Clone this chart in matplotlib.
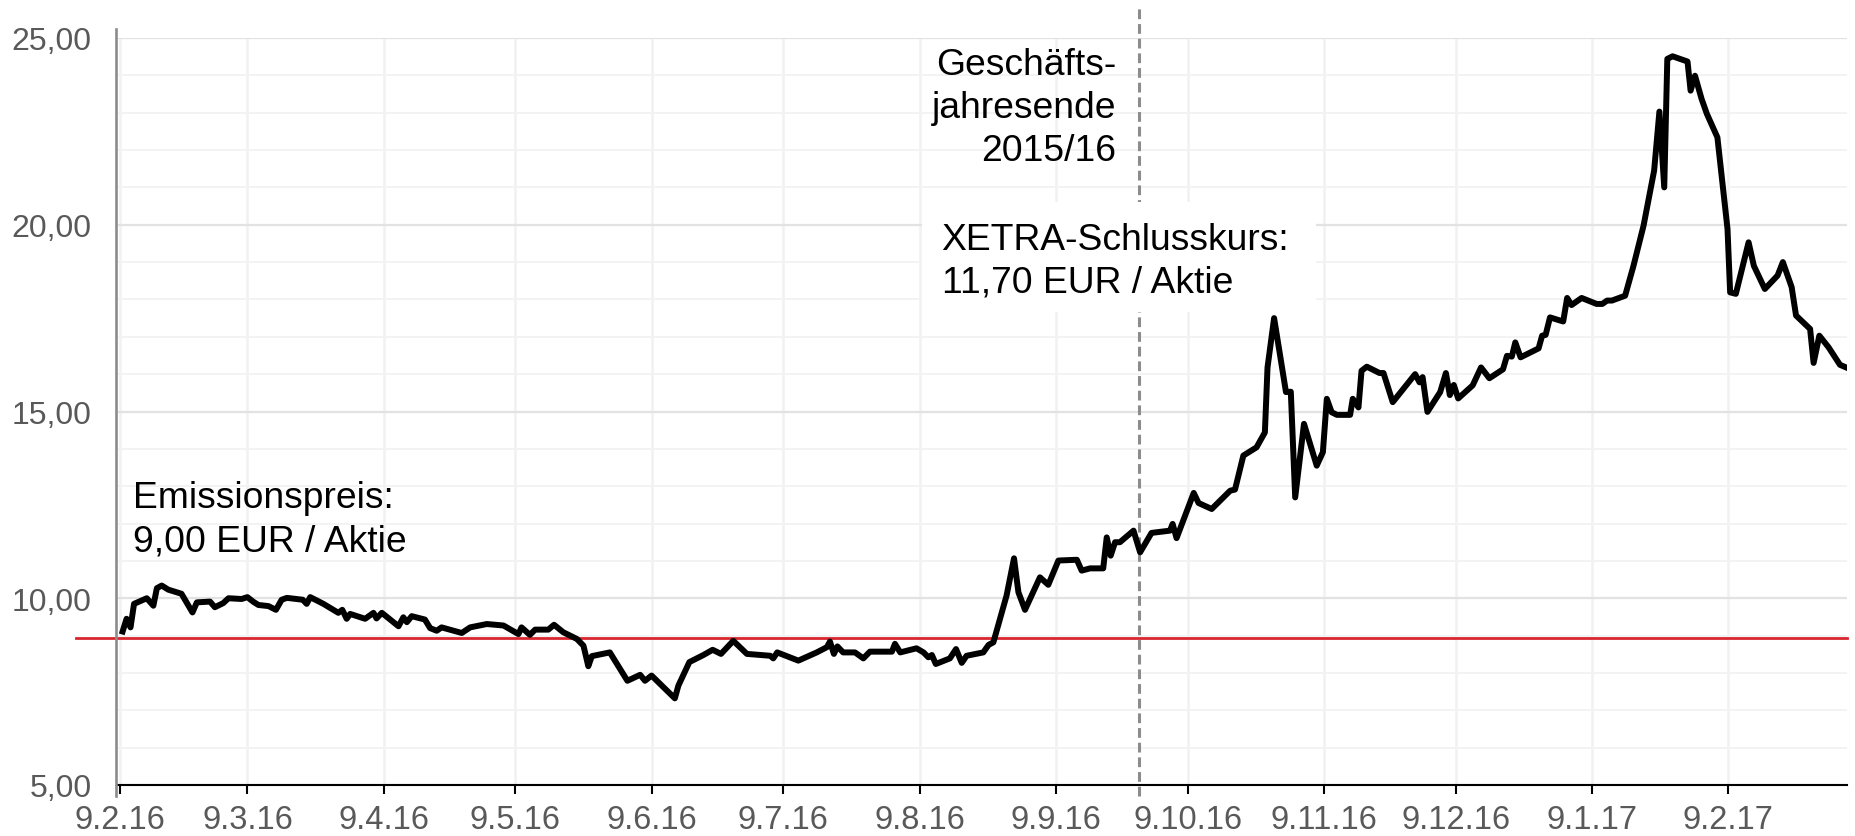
import matplotlib
matplotlib.use("Agg")
import matplotlib.pyplot as plt
import matplotlib.dates as mdates
from matplotlib.patches import Rectangle
import pandas as pd

plt.rcParams['font.family'] = ['Liberation Sans', 'DejaVu Sans']

# share price: days since IPO (9.2.2016) and EUR
start = pd.Timestamp("2016-02-09")
days = [0.6, 1.5, 2.4, 3.2, 6.1, 7.6, 8.4, 9.5, 11.0, 14.0, 16.5, 17.5, 20.5, 21.6,
        23.5, 24.7, 27.7, 29.0, 30.3, 31.5, 33.8, 35.5, 36.8, 38.0, 41.6, 42.5, 43.3,
        46.3, 49.7, 50.6, 51.6, 52.4, 55.8, 57.7, 58.4, 59.6, 63.4, 64.5, 65.3, 66.4,
        69.4, 70.6, 72.1, 73.2, 77.8, 79.7, 83.5, 87.3, 90.7, 91.4, 93.3, 94.5, 97.5,
        98.8, 100.9, 104.0, 105.5, 106.6, 107.4, 111.5, 113.8, 115.5, 118.4, 119.5,
        121.0, 126.3, 127.1, 129.6, 132.8, 134.9, 136.8, 139.6, 142.7, 148.0, 148.7,
        149.6, 154.4, 158.6, 160.9, 161.6, 162.5, 163.3, 164.6, 167.3, 169.2, 170.7,
        175.7, 176.4, 177.6, 181.3, 182.9, 184.0, 184.8, 185.7, 188.9, 190.3, 191.6,
        192.7, 196.5, 197.7, 198.8, 201.8, 203.5, 204.5, 206.0, 209.4, 211.3, 213.6,
        217.8, 218.9, 220.8, 223.8, 224.6, 225.5, 226.5, 227.6, 230.7, 232.2, 234.8,
        239.0, 239.6, 240.5, 244.4, 245.5, 248.5, 252.7, 253.8, 255.7, 258.7, 260.6,
        261.2, 262.7, 265.4, 266.5, 267.5, 269.5, 272.4, 273.8, 274.7, 275.8, 277.0,
        280.0, 280.6, 281.9, 282.6, 283.8, 286.7, 287.6, 289.7, 291.8, 294.8, 295.8,
        296.5, 297.6, 300.5, 301.8, 302.7, 303.6, 304.6, 307.9, 309.8, 311.7, 314.8,
        315.7, 316.8, 317.6, 318.8, 322.9, 323.7, 324.5, 325.5, 328.5, 329.4, 330.4,
        332.7, 336.1, 337.4, 338.5, 339.6, 342.6, 344.5, 346.8, 349.2, 350.4, 351.5,
        352.2, 353.4, 356.8, 357.5, 358.5, 360.0, 361.2, 363.6, 365.9, 366.5, 367.8,
        370.7, 371.9, 374.4, 377.3, 378.5, 380.5, 381.5, 384.7, 385.5, 386.8, 388.9,
        391.5, 392.9]
price = [9.11, 9.45, 9.22, 9.85, 10.00, 9.80, 10.27, 10.34, 10.23, 10.12, 9.62, 9.89,
         9.91, 9.76, 9.87, 10.00, 9.98, 10.03, 9.91, 9.82, 9.79, 9.69, 9.96, 10.01,
         9.96, 9.85, 10.03, 9.85, 9.61, 9.69, 9.45, 9.58, 9.45, 9.61, 9.46, 9.61, 9.25,
         9.49, 9.36, 9.52, 9.43, 9.20, 9.13, 9.22, 9.07, 9.22, 9.31, 9.27, 9.04, 9.22,
         9.02, 9.16, 9.16, 9.29, 9.09, 8.91, 8.73, 8.18, 8.45, 8.55, 8.11, 7.79, 7.95,
         7.79, 7.93, 7.32, 7.66, 8.29, 8.48, 8.62, 8.51, 8.86, 8.51, 8.46, 8.39, 8.55,
         8.33, 8.55, 8.69, 8.84, 8.51, 8.71, 8.55, 8.55, 8.39, 8.57, 8.57, 8.78, 8.55,
         8.66, 8.55, 8.42, 8.48, 8.24, 8.39, 8.64, 8.27, 8.46, 8.55, 8.75, 8.82, 10.07,
         11.07, 10.16, 9.69, 10.56, 10.36, 11.01, 11.03, 10.74, 10.80, 10.80, 11.63,
         11.14, 11.50, 11.50, 11.81, 11.23, 11.75, 11.81, 11.99, 11.61, 12.82, 12.55,
         12.39, 12.88, 12.91, 13.82, 14.04, 14.44, 16.18, 17.50, 15.52, 15.53, 12.70,
         14.67, 13.55, 13.91, 15.34, 14.98, 14.91, 14.91, 15.34, 15.11, 16.09, 16.20,
         16.03, 16.03, 15.25, 15.56, 16.00, 15.78, 15.92, 14.99, 15.52, 16.03, 15.44,
         15.71, 15.35, 15.70, 16.18, 15.89, 16.13, 16.49, 16.47, 16.85, 16.45, 16.69,
         17.03, 17.05, 17.52, 17.41, 18.04, 17.85, 18.04, 17.88, 17.88, 17.97, 17.97,
         18.10, 18.90, 19.98, 21.45, 23.03, 21.00, 24.44, 24.51, 24.37, 23.59, 23.99,
         23.37, 22.97, 22.34, 19.89, 18.19, 18.15, 19.53, 18.90, 18.28, 18.64, 19.00,
         18.33, 17.57, 17.21, 16.30, 17.03, 16.72, 16.25, 16.18]

tick_dates = ["2016-02-09", "2016-03-09", "2016-04-09", "2016-05-09", "2016-06-09",
              "2016-07-09", "2016-08-09", "2016-09-09", "2016-10-09", "2016-11-09",
              "2016-12-09", "2017-01-09", "2017-02-09"]
tick_labels = ["9.2.16", "9.3.16", "9.4.16", "9.5.16", "9.6.16", "9.7.16", "9.8.16",
               "9.9.16", "9.10.16", "9.11.16", "9.12.16", "9.1.17", "9.2.17"]
emission_line = 8.94
fy_end = "2016-09-28"

t0 = mdates.date2num(start)
x = [t0 + d for d in days]

fig = plt.figure(figsize=(18.56, 8.37), dpi=100)
ax = fig.add_axes([118 / 1856, 51 / 837, 1729 / 1856, 747 / 837])

ax.set_xlim(t0 - 0.45, t0 + 393.1)
ax.set_ylim(5, 25)

# grid
ax.set_yticks([5, 10, 15, 20, 25])
ax.set_yticks(range(5, 26), minor=True)
ax.grid(axis='y', which='major', color='#e2e2e2', lw=1.6, zorder=0)
ax.grid(axis='y', which='minor', color='#f3f3f3', lw=1.4, zorder=0)
ax.set_xticks([mdates.date2num(pd.Timestamp(d)) for d in tick_dates])
ax.set_xticklabels(tick_labels)
ax.grid(axis='x', which='major', color='#f1f1f1', lw=1.8, zorder=0)
ax.set_yticklabels(["5,00", "10,00", "15,00", "20,00", "25,00"])

for s in ['top', 'right', 'left']:
    ax.spines[s].set_visible(False)
ax.spines['bottom'].set_color('black')
ax.spines['bottom'].set_linewidth(1.5)
ax.spines['bottom'].set_zorder(5)

ax.tick_params(axis='y', which='both', length=0, pad=19, labelsize=23, labelcolor='#595959')
ax.tick_params(axis='x', which='major', length=6.5, width=1.5, color='black', pad=7,
               labelsize=23.5, labelcolor='#595959')

# gray left axis line, sticking out a bit
ax.plot([-0.001, -0.001], [4.705, 25.24], transform=ax.get_yaxis_transform(),
        color='#8c8c8c', lw=1.9, clip_on=False, zorder=6)

# emission price line
ax.plot([-0.0243, 1], [emission_line, emission_line], transform=ax.get_yaxis_transform(),
        color='#d9262e', lw=2.0, clip_on=False, zorder=3)

# fiscal year end
xf = mdates.date2num(pd.Timestamp(fy_end))
ax.plot([xf, xf], [4.705, 25.91], color='#8c8c8c', lw=2.2, dashes=(3.2, 1.6),
        clip_on=False, zorder=2)

ax.plot(x, price, color='black', lw=4.3, zorder=4)

# white box behind the XETRA note
ax.add_patch(Rectangle((t0 + 182.5, 17.66), 89.8, 2.96, facecolor='white',
                       edgecolor='none', zorder=3))

ax.text(t0 + 2.96, 11.28, "Emissionspreis:\n9,00 EUR / Aktie", fontsize=26.8,
        va='baseline', ha='left', linespacing=1.3, zorder=7)
ax.text(t0 + 226.7, 21.73, "Geschäfts-\njahresende\n2015/16", fontsize=26.8,
        va='baseline', ha='right', multialignment='right', linespacing=1.3, zorder=7)
ax.text(t0 + 187.0, 18.21, "XETRA-Schlusskurs:\n11,70 EUR / Aktie", fontsize=26.8,
        va='baseline', ha='left', linespacing=1.3, zorder=7)

fig.savefig("out.png", dpi=100)
